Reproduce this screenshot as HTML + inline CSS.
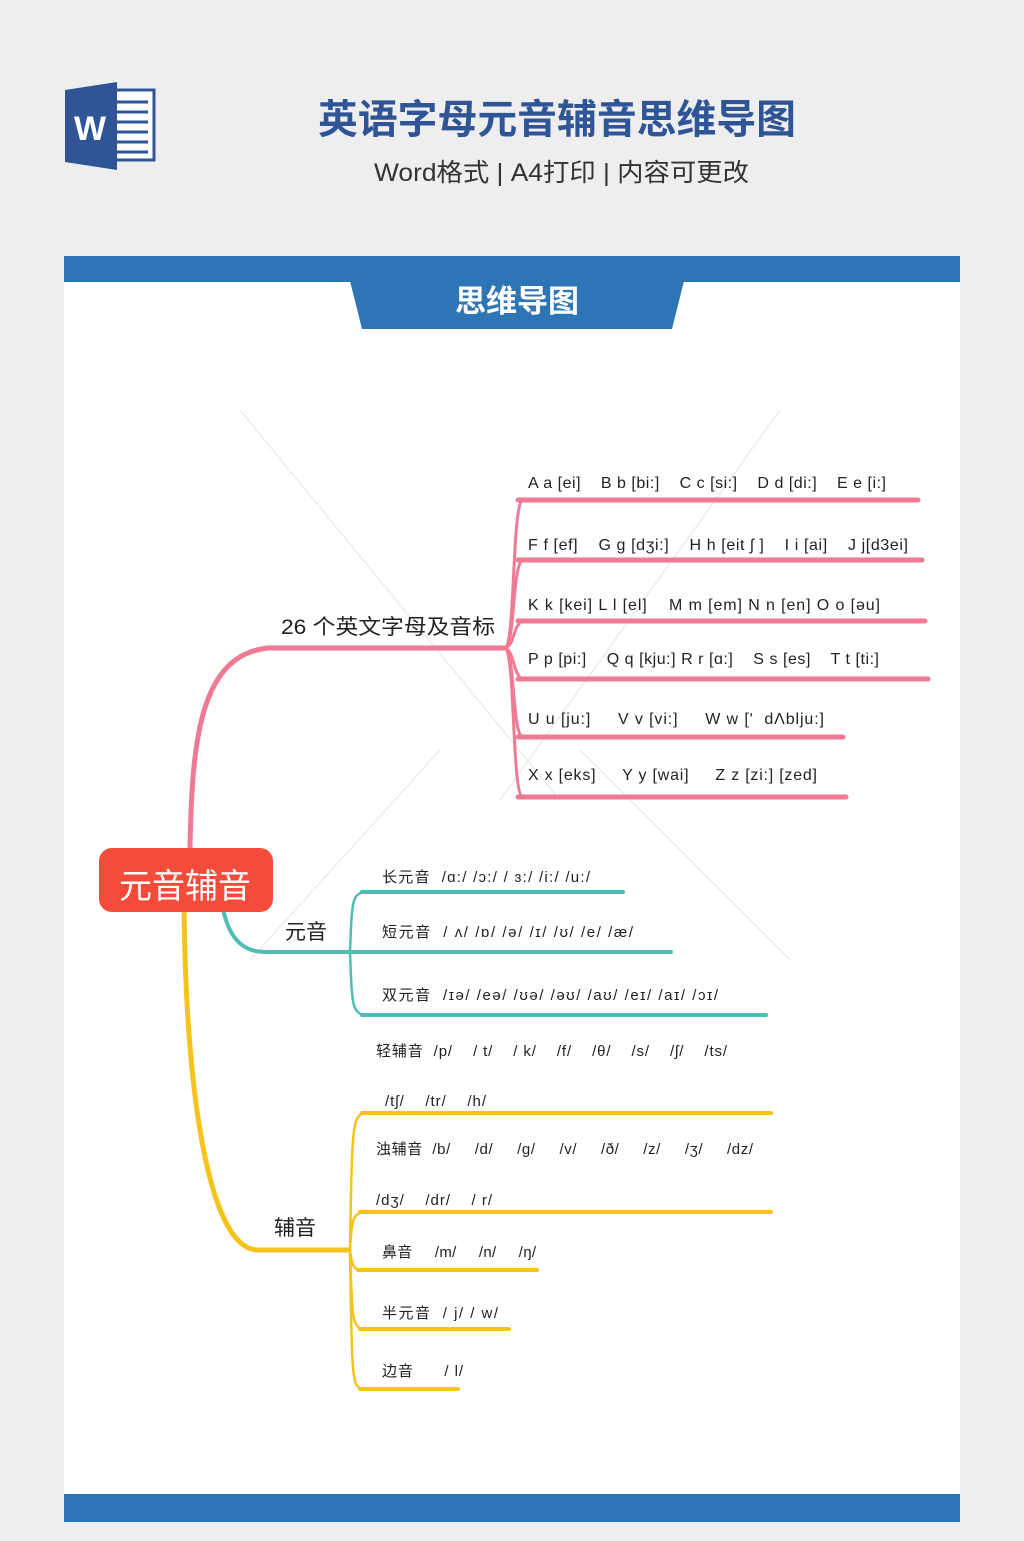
<!DOCTYPE html>
<html><head><meta charset="utf-8"><style>
html,body{margin:0;padding:0;background:#eeeeee;}
body{width:1024px;height:1536px;overflow:hidden;}
text{font-family:"Liberation Sans","Noto Sans CJK SC",sans-serif;white-space:pre;}
</style></head><body>
<svg width="1024" height="1536" viewBox="0 0 1024 1536" xmlns="http://www.w3.org/2000/svg">
<rect width="1024" height="1536" fill="#eeeeee"/>
<rect x="110" y="90" width="44" height="70" fill="#fff" stroke="#2f5597" stroke-width="3"/>
<g stroke="#2f5597" stroke-width="3"><line x1="116" y1="102" x2="148" y2="102"/><line x1="116" y1="112" x2="148" y2="112"/><line x1="116" y1="122" x2="148" y2="122"/><line x1="116" y1="132" x2="148" y2="132"/><line x1="116" y1="142" x2="148" y2="142"/><line x1="116" y1="152" x2="148" y2="152"/></g>
<polygon points="65,90 117,82 117,170 65,162" fill="#2f5597"/>
<text x="90" y="140" font-size="34" font-weight="bold" fill="#fff" text-anchor="middle">W</text>
<text x="318" y="133" font-size="40" font-weight="bold" fill="#2f5597" textLength="478" lengthAdjust="spacingAndGlyphs">英语字母元音辅音思维导图</text>
<text x="374" y="181" font-size="25" fill="#333" textLength="375" lengthAdjust="spacingAndGlyphs">Word格式 | A4打印 | 内容可更改</text>
<rect x="64" y="256" width="896" height="1266" fill="#fff"/>
<rect x="64" y="256" width="896" height="26" fill="#2e75b6"/>
<polygon points="350,281 684,281 672,329 362,329" fill="#2e75b6"/>
<text x="517" y="312" font-size="31" font-weight="bold" fill="#fff" text-anchor="middle">思维导图</text>
<rect x="64" y="1494" width="896" height="28" fill="#2e75b6"/>
<g stroke="#ececec" stroke-width="1.5"><line x1="240" y1="410" x2="560" y2="800"/><line x1="780" y1="410" x2="500" y2="800"/><line x1="440" y1="750" x2="250" y2="960"/><line x1="580" y1="750" x2="790" y2="960"/></g>
<g fill="none" stroke="#f07a93" stroke-linecap="round">
<path d="M190 848 C192 740,200 655,268 648 L505 648" stroke-width="5"/>
<g stroke-width="3">
<path d="M505 648 C515 645,512 510,522 500"/>
<path d="M505 648 C515 645,512 570,522 560"/>
<path d="M505 648 C515 645,512 628,522 621"/>
<path d="M505 648 C515 652,512 672,522 679"/>
<path d="M505 648 C515 652,512 730,522 737"/>
<path d="M505 648 C515 652,512 790,522 797"/>
</g>
<g stroke-width="5">
<line x1="518" y1="500" x2="918" y2="500"/><line x1="518" y1="560" x2="922" y2="560"/>
<line x1="518" y1="621" x2="925" y2="621"/><line x1="518" y1="679" x2="928" y2="679"/>
<line x1="518" y1="737" x2="843" y2="737"/><line x1="518" y1="797" x2="846" y2="797"/>
</g></g>
<g fill="none" stroke="#4dbdb5" stroke-linecap="round">
<path d="M222 905 C228 935,240 952,265 952 L350 952" stroke-width="4"/>
<g stroke-width="2.5"><path d="M350 952 C352 900,352 894,365 892"/><path d="M350 952 C352 1005,352 1013,365 1015"/></g>
<g stroke-width="4"><line x1="362" y1="892" x2="623" y2="892"/><line x1="350" y1="952" x2="671" y2="952"/><line x1="362" y1="1015" x2="766" y2="1015"/></g>
</g>
<g fill="none" stroke="#f6c31c" stroke-linecap="round">
<path d="M184 905 C186 1100,210 1250,258 1250 L348 1250" stroke-width="5"/>
<g stroke-width="2.5">
<path d="M350 1250 C352 1130,352 1116,364 1113"/><path d="M350 1250 C352 1220,352 1214,364 1212"/>
<path d="M350 1250 C352 1264,352 1268,360 1270"/><path d="M350 1250 C352 1315,352 1326,362 1329"/>
<path d="M350 1250 C352 1380,352 1386,362 1389"/>
</g>
<g stroke-width="4"><line x1="362" y1="1113" x2="771" y2="1113"/><line x1="360" y1="1212" x2="771" y2="1212"/>
<line x1="358" y1="1270" x2="537" y2="1270"/><line x1="360" y1="1329" x2="509" y2="1329"/><line x1="360" y1="1389" x2="458" y2="1389"/></g>
</g>
<rect x="99" y="848" width="174" height="64" rx="13" fill="#f54b3b"/>
<text x="119" y="898" font-size="34" fill="#fff" textLength="132" lengthAdjust="spacingAndGlyphs">元音辅音</text>
<g font-size="21" fill="#222">
<text x="281" y="634" textLength="214" lengthAdjust="spacingAndGlyphs">26 个英文字母及音标</text>
<text x="285" y="939">元音</text>
<text x="274" y="1235">辅音</text>
</g>
<g font-size="16" fill="#222" lengthAdjust="spacingAndGlyphs">
<text x="528" y="488" textLength="358">A a [ei]    B b [bi:]    C c [si:]    D d [di:]    E e [i:]</text>
<text x="528" y="550" textLength="380">F f [ef]    G g [dʒi:]    H h [eit ʃ ]    I i [ai]    J j[d3ei]</text>
<text x="528" y="610" textLength="352">K k [kei] L l [el]    M m [em] N n [en] O o [əu]</text>
<text x="528" y="664" textLength="351">P p [pi:]    Q q [kju:] R r [ɑ:]    S s [es]    T t [ti:]</text>
<text x="528" y="724" textLength="296">U u [ju:]     V v [vi:]     W w [ʹ  dΛblju:]</text>
<text x="528" y="780" textLength="289">X x [eks]     Y y [wai]     Z z [zi:] [zed]</text>
</g>
<g font-size="15" fill="#222">
<text x="382" y="882" textLength="208">长元音  /ɑ:/ /ɔ:/ / ɜ:/ /i:/ /u:/</text>
<text x="382" y="937" textLength="251">短元音  / ʌ/ /ɒ/ /ə/ /ɪ/ /ʊ/ /e/ /æ/</text>
<text x="382" y="1000" textLength="336">双元音  /ɪə/ /eə/ /ʊə/ /əʊ/ /aʊ/ /eɪ/ /aɪ/ /ɔɪ/</text>
<text x="376" y="1056" textLength="351">轻辅音  /p/    / t/    / k/    /f/    /θ/    /s/    /ʃ/    /ts/</text>
<text x="385" y="1106" textLength="101">/tʃ/    /tr/    /h/</text>
<text x="376" y="1154" textLength="377">浊辅音  /b/     /d/     /g/     /v/     /ð/     /z/     /ʒ/     /dz/</text>
<text x="376" y="1205" textLength="116">/dʒ/    /dr/    / r/</text>
<text x="382" y="1257" textLength="154">鼻音     /m/     /n/     /ŋ/</text>
<text x="382" y="1318" textLength="116">半元音  / j/ / w/</text>
<text x="382" y="1376" textLength="81">边音      / l/</text>
</g>
</svg>
</body></html>
